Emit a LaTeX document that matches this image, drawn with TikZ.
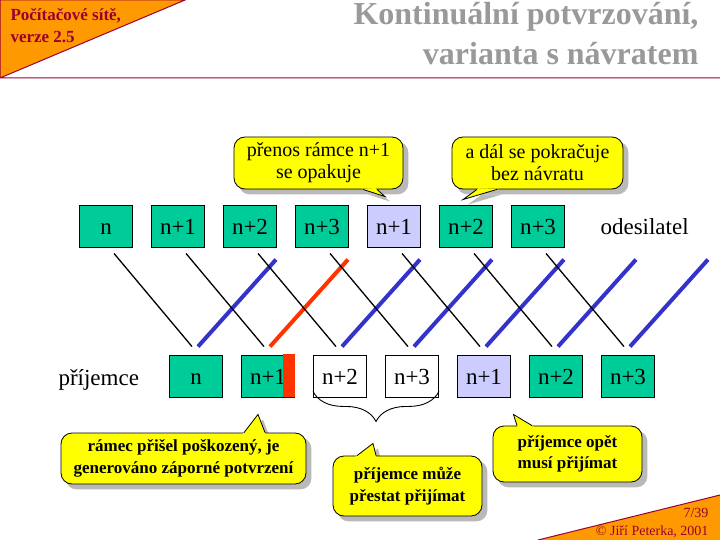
\documentclass[tikz,border=0pt]{standalone}
\usepackage{fontspec}
\setmainfont{Liberation Serif}
\usetikzlibrary{calc,backgrounds,decorations.pathreplacing}
\definecolor{zelena}{RGB}{0,204,153}
\definecolor{fialova}{RGB}{204,204,255}
\definecolor{modra}{RGB}{51,51,204}
\definecolor{cervena}{RGB}{255,51,0}
\definecolor{zluta}{RGB}{255,255,0}
\definecolor{oranzova}{RGB}{255,153,0}
\definecolor{hlavicka}{RGB}{153,0,51}
\definecolor{sediva}{RGB}{153,153,153}
\newcommand{\bublina}[4]{%
  \begin{scope}[on background layer]
    \fill[stin,rounded corners=11pt] ([shift={(5,5)}]#1.south west) rectangle ([shift={(5,5)}]#1.north east);
    \fill[stin] ([shift={(5,5)}]#2) -- ([shift={(5,5)}]#3) -- ([shift={(5,5)}]#4) -- cycle;
  \end{scope}
  \fill[zluta] ($(#2)!-2pt!(#3)$) -- (#3) -- ($(#4)!-2pt!(#3)$) -- cycle;
  \draw[obrys] (#2) -- (#3) -- (#4);
}
\begin{document}
\begin{tikzpicture}[x=1pt,y=-1pt,
  ramec/.style={draw,line width=0.9pt,minimum width=53pt,minimum height=42pt,inner sep=0pt,
    text height=16pt,text depth=0pt,font=\fontsize{23}{26}\selectfont},
  data/.style={line width=1.3pt},
  potvrzeni/.style={line width=4pt},
  popisek/.style={font=\fontsize{23}{26}\selectfont},
  bublina/.style={draw,fill=zluta,line width=0.8pt,rounded corners=11pt,align=center,inner sep=0pt},
  horni/.style={font=\fontsize{20}{22}\selectfont},
  dolni/.style={font=\fontsize{17}{21.5}\selectfont\bfseries},
  obrys/.style={line width=0.8pt},
  stin/.style={fill=gray!55},
  zavorka/.style={decorate,decoration={brace,mirror,amplitude=30pt},line width=0.9pt}]
\useasboundingbox (0,0) rectangle (720,540);

\fill[oranzova] (0,0) -- (185,0) -- (0,78) -- cycle;
\draw[hlavicka,line width=1pt] (0,78) -- (0,0) -- (185,0) -- (0,78) -- (720,78);
\node[anchor=base west,text=hlavicka,font=\fontsize{17}{20}\selectfont\bfseries] (predmet) at (7,21) {Počítačové sítě,};
\node[anchor=base west,text=hlavicka,font=\fontsize{17}{20}\selectfont\bfseries] (verze) at (7,43) {verze 2.5};
\node[anchor=base east,text=sediva,font=\fontsize{32}{36}\selectfont\bfseries] (nadpis1) at (702,25) {Kontinuální potvrzování,};
\node[anchor=base east,text=sediva,font=\fontsize{32}{36}\selectfont\bfseries] (nadpis2) at (702,65) {varianta s návratem};

\fill[oranzova] (538,540) -- (720,495) -- (720,540) -- cycle;
\draw[hlavicka,line width=1pt] (538,540) -- (720,495);
\node[anchor=base east,text=hlavicka,font=\fontsize{14}{16}\selectfont] (strana) at (712,517) {7/39};
\node[anchor=base east,text=hlavicka,font=\fontsize{14}{16}\selectfont] (autor) at (712,535) {© Jiří Peterka, 2001};

\foreach \i/\txt/\barva in {1/n/zelena,2/n+1/zelena,3/n+2/zelena,4/n+3/zelena,5/n+1/fialova,6/n+2/zelena,7/n+3/zelena}
  \node[ramec,fill=\barva] (o\i) at ({106+72*(\i-1)},226) {\txt};
\foreach \i/\txt/\barva in {1/n/zelena,2/n+1/zelena,3/n+2/white,4/n+3/white,5/n+1/fialova,6/n+2/zelena,7/n+3/zelena}
  \node[ramec,fill=\barva] (p\i) at ({196+72*(\i-1)},376) {\txt};
\fill[cervena] ([shift={(-12,-1)}]p2.north east) rectangle (p2.south east);

\node[popisek,anchor=base west] (odesilatel) at (597,234) {odesilatel};
\node[popisek,anchor=base west] (prijemce) at (55,385) {příjemce};

\foreach \i/\barva in {1/modra,2/cervena,3/modra,4/modra,5/modra,6/modra,7/modra} {
  \draw[data] ([shift={(8,6)}]o\i.south) -- ([shift={(-4,-8)}]p\i.north);
  \draw[potvrzeni,\barva] ([shift={(2,-8)}]p\i.north) -- ([shift={(80,-95)}]p\i.north);
}

\draw[zavorka] ([yshift=6]p3.south west) -- ([yshift=6]p4.south east);

\node[bublina,horni,minimum width=169pt,minimum height=52pt] (opakuje) at (318.5,163) {přenos rámce n+1\\se opakuje};
\coordinate (opakuje-a) at ([xshift=44.5]opakuje.south);
\coordinate (opakuje-b) at ([xshift=58.5]opakuje.south);
\coordinate (opakuje-s) at ([shift={(-9,-8)}]o5.north);
\bublina{opakuje}{opakuje-a}{opakuje-s}{opakuje-b}

\node[bublina,horni,minimum width=171pt,minimum height=52pt] (pokracuje) at (537.5,163) {a dál se pokračuje\\bez návratu};
\coordinate (pokracuje-a) at ([xshift=-60.5]pokracuje.south);
\coordinate (pokracuje-b) at ([xshift=-40.5]pokracuje.south);
\coordinate (pokracuje-s) at ([shift={(-3,-5)}]o6.north);
\bublina{pokracuje}{pokracuje-a}{pokracuje-s}{pokracuje-b}

\node[bublina,dolni,minimum width=245pt,minimum height=51pt] (poskozeny) at (183.5,458.5) {rámec přišel poškozený, je\\generováno záporné potvrzení};
\coordinate (poskozeny-a) at ([xshift=60.5]poskozeny.north);
\coordinate (poskozeny-b) at ([xshift=81.5]poskozeny.north);
\coordinate (poskozeny-s) at ([shift={(-10,17)}]p2.south);
\bublina{poskozeny}{poskozeny-a}{poskozeny-s}{poskozeny-b}

\node[bublina,dolni,minimum width=149pt,minimum height=60pt] (muze) at (407.5,486) {příjemce může\\přestat přijímat};
\coordinate (muze-a) at ([xshift=-50.5]muze.north);
\coordinate (muze-b) at ([xshift=-31.5]muze.north);
\coordinate (muze-s) at ($($(p3.south east)!.5!(p4.south west)$)+(-3,46)$);
\bublina{muze}{muze-a}{muze-s}{muze-b}

\node[bublina,dolni,minimum width=149pt,minimum height=56pt] (opet) at (567.5,454) {příjemce opět\\musí přijímat};
\coordinate (opet-a) at ([xshift=-50.5]opet.north);
\coordinate (opet-b) at ([xshift=-35.5]opet.north);
\coordinate (opet-s) at ([shift={(2.5,17)}]p5.south east);
\bublina{opet}{opet-a}{opet-s}{opet-b}
\end{tikzpicture}
\end{document}
